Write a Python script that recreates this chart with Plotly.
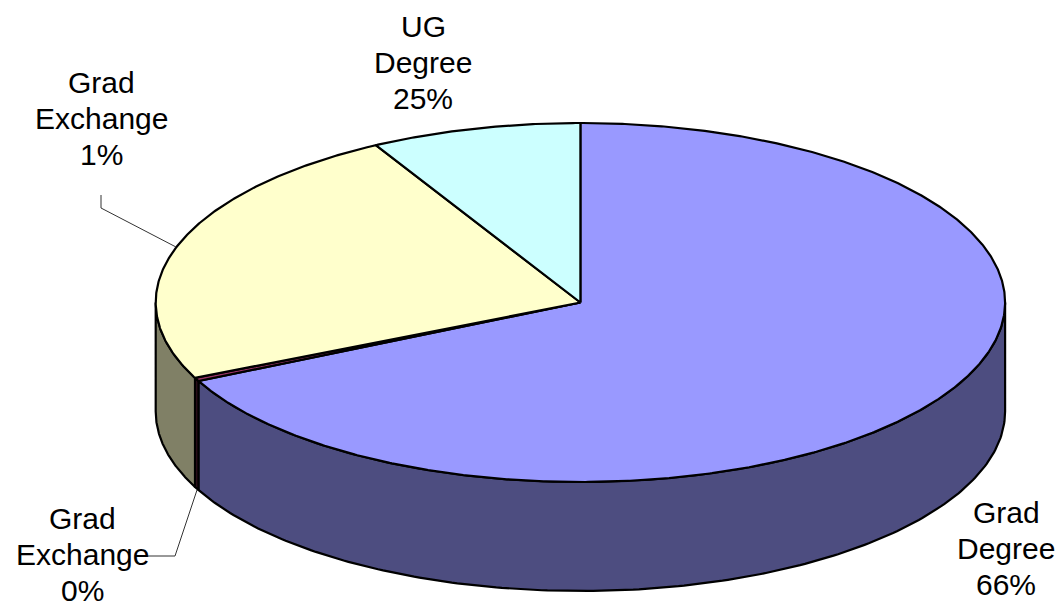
import numpy as np
import plotly.graph_objects as go

# ---- data ----
categories = ["Grad Degree", "Grad Exchange (a)", "Grad Exchange (b)", "UG Degree"]
values = [67.8, 0.3, 23.9, 8.0]          # visual slice shares, clockwise from 12 o'clock
label_lines = [["Grad", "Degree", "66%"], ["Grad", "Exchange", "0%"],
               ["Grad", "Exchange", "1%"], ["UG", "Degree", "25%"]]

# ---- styles ----
top_colors = ["#9999FF", "#993366", "#FFFFCC", "#CCFFFF"]
side_colors = ["#4D4D80", "#33111F", "#808066", "#668080"]

# ---- geometry of the tilted disk (pixels) ----
W, H = 1059, 607
CX, CY, RX, RY, DEPTH = 580.4, 302.5, 424.7, 179.5, 109

def px(t):
    return CX + RX * np.sin(np.radians(t))

def py(t):
    return CY - RY * np.cos(np.radians(t))

total = float(sum(values))
bounds = np.concatenate([[0.0], np.cumsum(values)]) / total * 360.0

fig = go.Figure()

# side walls (front half: 90..270 deg)
for i in range(len(values)):
    a, b = bounds[i], bounds[i + 1]
    lo, hi = max(a, 90.0), min(b, 270.0)
    if lo >= hi:
        continue
    t = np.linspace(lo, hi, 200)
    xs = np.concatenate([px(t), px(t[::-1]), [px(t[0])]])
    ys = np.concatenate([py(t), py(t[::-1]) + DEPTH, [py(t[0])]])
    fig.add_trace(go.Scatter(x=xs, y=ys, mode="lines", fill="toself",
                             fillcolor=side_colors[i],
                             line=dict(color="black", width=2.2),
                             hoverinfo="skip", showlegend=False))

# top faces
for i in range(len(values)):
    a, b = bounds[i], bounds[i + 1]
    t = np.linspace(a, b, max(3, int((b - a) * 3)))
    xs = np.concatenate([[CX], px(t), [CX]])
    ys = np.concatenate([[CY], py(t), [CY]])
    fig.add_trace(go.Scatter(x=xs, y=ys, mode="lines", fill="toself",
                             fillcolor=top_colors[i],
                             line=dict(color="black", width=2.2),
                             hoverinfo="skip", showlegend=False))

# labels (one annotation per line for exact line spacing)
label_pos = [(1006, 548), (82, 554), (101, 118), (423, 62)]
LINE_GAP = 36
for lines, (lx, ly) in zip(label_lines, label_pos):
    for k, line in enumerate(lines):
        fig.add_annotation(x=lx, y=ly + (k - 1) * LINE_GAP, text=line, showarrow=False,
                           font=dict(family="Liberation Sans, Arial, sans-serif",
                                     size=30, color="black"),
                           xanchor="center", yanchor="middle", align="center")

# leader lines
leaders = [([101, 101, 176], [195, 208, 247]),
           ([147, 175, 197], [556, 556, 490])]
for lxs, lys in leaders:
    fig.add_trace(go.Scatter(x=lxs, y=lys, mode="lines",
                             line=dict(color="#333333", width=1),
                             hoverinfo="skip", showlegend=False))

fig.update_xaxes(range=[0, W], visible=False, fixedrange=True)
fig.update_yaxes(range=[H, 0], visible=False, fixedrange=True)
fig.update_layout(width=W, height=H, margin=dict(l=0, r=0, t=0, b=0),
                  paper_bgcolor="white", plot_bgcolor="white")

fig.write_html("out.html", config={"displayModeBar": False},
               post_script="document.body.style.margin='0';document.body.style.padding='0';")
